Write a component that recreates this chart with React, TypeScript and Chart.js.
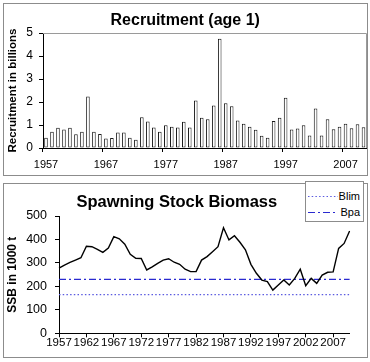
import React, { useEffect, useRef } from "react";
import { Chart, registerables } from "chart.js";

Chart.register(...registerables);

const years = [
  "1957", "1958", "1959", "1960", "1961", "1962", "1963", "1964", "1965", "1966",
  "1967", "1968", "1969", "1970", "1971", "1972", "1973", "1974", "1975", "1976",
  "1977", "1978", "1979", "1980", "1981", "1982", "1983", "1984", "1985", "1986",
  "1987", "1988", "1989", "1990", "1991", "1992", "1993", "1994", "1995", "1996",
  "1997", "1998", "1999", "2000", "2001", "2002", "2003", "2004", "2005", "2006",
  "2007", "2008", "2009", "2010",
];

// Recruitment (age 1), billions
const recruitment = [
  0.45, 0.71, 0.88, 0.8, 0.88, 0.6, 0.71, 2.24, 0.71, 0.61,
  0.41, 0.44, 0.67, 0.67, 0.45, 0.36, 1.34, 1.15, 0.89, 0.71,
  0.99, 0.92, 0.89, 1.14, 0.89, 2.06, 1.31, 1.25, 1.85, 4.75,
  1.95, 1.81, 1.2, 1.05, 0.92, 0.79, 0.53, 0.45, 1.17, 1.31,
  2.19, 0.8, 0.85, 0.99, 0.54, 1.72, 0.54, 1.25, 0.82, 0.92,
  1.05, 0.86, 1.03, 0.9,
];

// Spawning stock biomass, 1000 t
const ssb = [
  278, 291, 302, 312, 322, 371, 369, 358, 345, 363,
  412, 403, 380, 337, 320, 319, 270, 283, 298, 312,
  318, 303, 294, 273, 263, 263, 312, 327, 348, 369,
  450, 398, 416, 388, 356, 294, 256, 227, 220, 184,
  206, 227, 206, 234, 273, 203, 234, 213, 248, 260,
  262, 362, 383, 436,
];

const BLIM = 165;
const BPA = 230;
const blimLabel = "Blim";
const bpaLabel = "Bpa";

const recruitLabelYears = ["1957", "1967", "1977", "1987", "1997", "2007"];
const ssbLabelYears = ["1957", "1962", "1967", "1972", "1977", "1982", "1987", "1992", "1997", "2002", "2007"];

const FONT = "'Liberation Sans', Arial, Helvetica, sans-serif";
const BLIM_COLOR = "#5b5be0";
const BPA_COLOR = "#2a2ad0";
const PANEL_BORDER = "#8c8c8c";

const plotFrame = {
  id: "plotFrame",
  beforeDatasetsDraw(chart: any, _args: any, opts: any) {
    if (!opts || !opts.enabled) return;
    const { ctx, chartArea: a } = chart;
    ctx.save();
    ctx.strokeStyle = opts.color;
    ctx.lineWidth = 1;
    ctx.beginPath();
    ctx.moveTo(a.left, Math.round(a.top) + 0.5);
    ctx.lineTo(Math.round(a.right) - 0.5, Math.round(a.top) + 0.5);
    ctx.lineTo(Math.round(a.right) - 0.5, a.bottom);
    ctx.stroke();
    ctx.restore();
  },
};

function RecruitmentChart() {
  const ref = useRef<HTMLCanvasElement | null>(null);
  useEffect(() => {
    if (!ref.current) return;
    const chart = new Chart(ref.current, {
      type: "bar",
      data: {
        labels: years,
        datasets: [
          {
            label: "Recruitment",
            data: recruitment,
            backgroundColor: "#ffffff",
            borderColor: "#1a1a1a",
            borderWidth: 1,
            borderSkipped: false,
            barPercentage: 0.6,
            categoryPercentage: 1,
          } as any,
        ],
      },
      plugins: [plotFrame as any],
      options: {
        responsive: false,
        animation: false,
        devicePixelRatio: 1,
        layout: { padding: { left: 0, right: 0.5, top: 0, bottom: 0 } },
        plugins: {
          legend: { display: false },
          tooltip: { enabled: false },
          title: {
            display: true,
            text: "Recruitment (age 1)",
            color: "#000",
            font: { family: FONT, size: 16, weight: "bold", lineHeight: 1.2 },
            padding: { top: 7.4, bottom: 2.4 },
          },
          plotFrame: { enabled: true, color: "#9a9a9a" },
        } as any,
        scales: {
          x: {
            type: "category",
            offset: true,
            grid: {
              offset: true,
              drawOnChartArea: false,
              drawTicks: true,
              tickLength: 4,
              tickColor: (c: any) =>
                recruitLabelYears.includes(years[c.index]) ? "#000" : "rgba(0,0,0,0)",
            },
            border: { display: true, color: "#000", width: 1 },
            ticks: {
              autoSkip: false,
              maxRotation: 0,
              minRotation: 0,
              padding: 6,
              color: "#000",
              font: { family: FONT, size: 11 },
              callback: (_v: any, i: number) =>
                recruitLabelYears.includes(years[i]) ? years[i] : "",
            },
            afterFit: (s: any) => {
              s.height = 27;
              s.paddingLeft = 0;
              s.paddingRight = 0;
            },
          } as any,
          y: {
            min: 0,
            max: 5,
            ticks: {
              stepSize: 1,
              padding: 6,
              color: "#000",
              font: { family: FONT, size: 12 },
            },
            grid: { drawOnChartArea: false, tickLength: 4, tickColor: "#000" },
            border: { display: true, color: "#000", width: 1 },
            title: {
              display: true,
              text: "Recruitment in billions",
              color: "#000",
              font: { family: FONT, size: 11.5, weight: "bold", lineHeight: 1.2 },
              padding: { top: 2.1, bottom: 0 },
            },
            afterFit: (s: any) => {
              s.width = 39;
            },
          } as any,
        },
      },
    });
    return () => chart.destroy();
  }, []);
  return <canvas ref={ref} width={363} height={171} style={{ display: "block" }} />;
}

function SsbChart() {
  const ref = useRef<HTMLCanvasElement | null>(null);
  useEffect(() => {
    if (!ref.current) return;
    const first = years[0];
    const last = years[years.length - 1];
    const chart = new Chart(ref.current, {
      type: "line",
      data: {
        labels: years,
        datasets: [
          {
            label: "SSB",
            data: ssb,
            borderColor: "#000",
            borderWidth: 1.4,
            pointRadius: 0,
            tension: 0,
            fill: false,
          },
          {
            label: blimLabel,
            data: [
              { x: first, y: BLIM },
              { x: last, y: BLIM },
            ],
            borderColor: BLIM_COLOR,
            borderWidth: 1.2,
            borderDash: [1.5, 2.2],
            pointRadius: 0,
            fill: false,
          } as any,
          {
            label: bpaLabel,
            data: [
              { x: first, y: BPA },
              { x: last, y: BPA },
            ],
            borderColor: BPA_COLOR,
            borderWidth: 1.2,
            borderDash: [7, 3, 2, 3],
            pointRadius: 0,
            fill: false,
          } as any,
        ],
      },
      options: {
        responsive: false,
        animation: false,
        devicePixelRatio: 1,
        layout: { padding: { left: 0, right: 17.4, top: 0, bottom: 0 } },
        plugins: {
          legend: { display: false },
          tooltip: { enabled: false },
          title: {
            display: true,
            text: "Spawning Stock Biomass",
            color: "#000",
            font: { family: FONT, size: 16.5, weight: "bold", lineHeight: 1.2 },
            padding: { top: 8.6, bottom: 3.6 },
          },
        },
        scales: {
          x: {
            type: "category",
            offset: false,
            grid: {
              offset: false,
              drawOnChartArea: false,
              drawTicks: true,
              tickLength: 4,
              tickColor: (c: any) =>
                ssbLabelYears.includes(years[c.index]) ? "#000" : "rgba(0,0,0,0)",
            },
            border: { display: true, color: "#000", width: 1 },
            ticks: {
              autoSkip: false,
              maxRotation: 0,
              minRotation: 0,
              padding: -1,
              color: "#000",
              font: { family: FONT, size: 11.5 },
              callback: (_v: any, i: number) =>
                ssbLabelYears.includes(years[i]) ? years[i] : "",
            },
            afterFit: (s: any) => {
              s.height = 23.7;
              s.paddingLeft = 0;
              s.paddingRight = 0;
            },
          } as any,
          y: {
            min: 0,
            max: 500,
            ticks: {
              stepSize: 100,
              padding: 8,
              color: "#000",
              font: { family: FONT, size: 12.5 },
            },
            grid: { drawOnChartArea: false, tickLength: 4, tickColor: "#000" },
            border: { display: true, color: "#000", width: 1 },
            title: {
              display: true,
              text: "SSB in 1000 t",
              color: "#000",
              font: { family: FONT, size: 12, weight: "bold", lineHeight: 1.2 },
              padding: { top: 1.3, bottom: 0 },
            },
            afterFit: (s: any) => {
              s.width = 55;
            },
          } as any,
        },
      },
    });
    return () => chart.destroy();
  }, []);
  return <canvas ref={ref} width={363} height={173} style={{ display: "block" }} />;
}

function Legend() {
  const text: React.CSSProperties = {
    position: "absolute",
    right: 3,
    fontFamily: FONT,
    fontSize: 11,
    lineHeight: "13px",
    color: "#000",
  };
  return (
    <div
      style={{
        position: "absolute",
        left: 305,
        top: 181,
        width: 57,
        height: 39,
        border: `1px solid ${PANEL_BORDER}`,
        background: "#fff",
      }}
    >
      <svg width={57} height={39} style={{ position: "absolute", left: 0, top: 0 }}>
        <line x1={2} x2={32} y1={14.5} y2={14.5} stroke={BLIM_COLOR} strokeWidth={1.2} strokeDasharray="1.5 2.2" />
        <line x1={2} x2={32} y1={30.5} y2={30.5} stroke={BPA_COLOR} strokeWidth={1.2} strokeDasharray="7 3 2 3" />
      </svg>
      <span style={{ ...text, top: 7.5 }}>{blimLabel}</span>
      <span style={{ ...text, top: 23.5 }}>{bpaLabel}</span>
    </div>
  );
}

export default function App() {
  const panel: React.CSSProperties = {
    position: "absolute",
    left: 3,
    width: 363,
    border: `1px solid ${PANEL_BORDER}`,
    background: "#fff",
  };
  return (
    <div style={{ position: "absolute", left: 0, top: 0, width: 370, height: 362, background: "#fff" }}>
      <div style={{ ...panel, top: 3, height: 171 }}>
        <RecruitmentChart />
      </div>
      <div style={{ ...panel, top: 183, height: 173 }}>
        <SsbChart />
      </div>
      <Legend />
    </div>
  );
}
